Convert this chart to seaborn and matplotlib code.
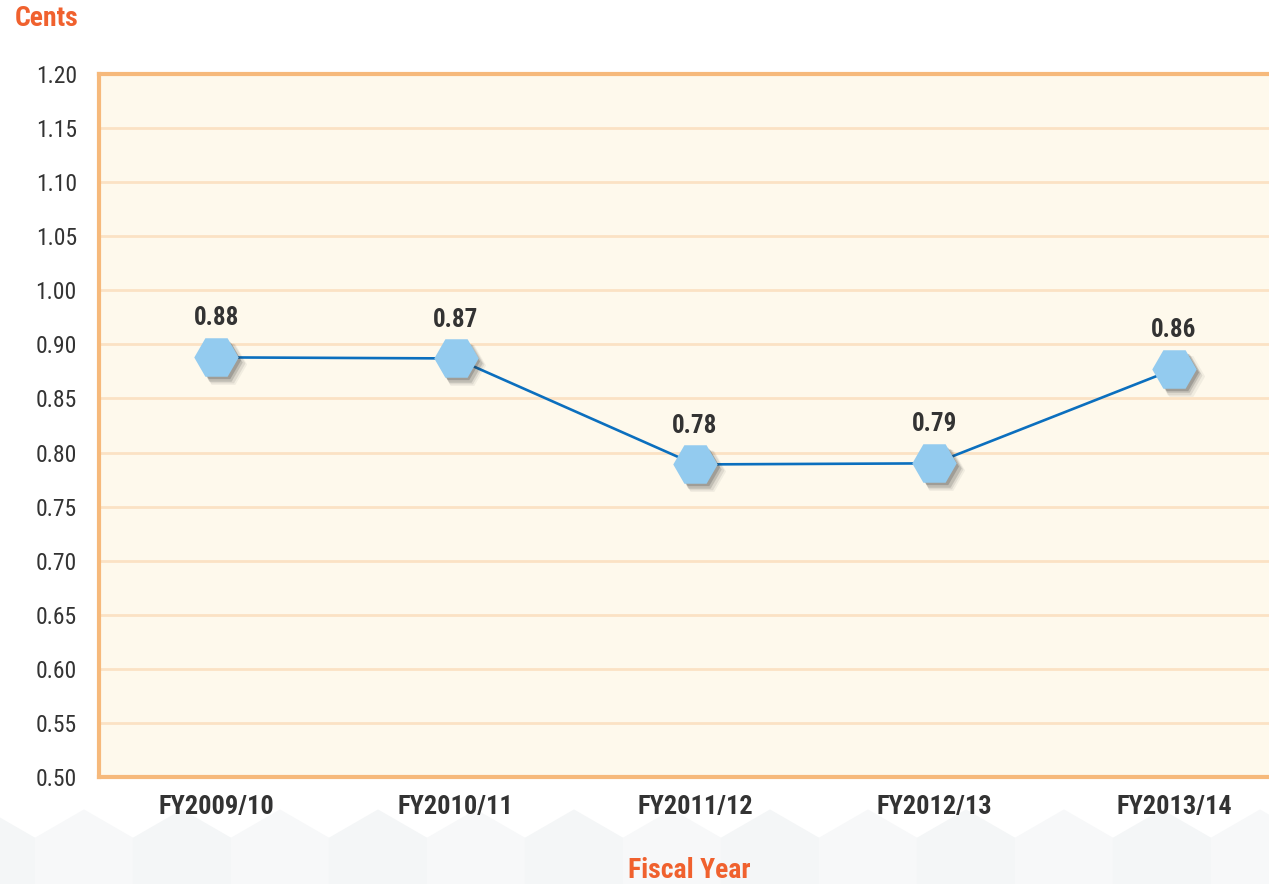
import matplotlib
matplotlib.use("Agg")
import matplotlib.pyplot as plt
import matplotlib.transforms as mtransforms
from matplotlib.patches import RegularPolygon
from matplotlib import font_manager
import seaborn as sns
import numpy as np
import pandas as pd

# data
years = ["FY2009/10", "FY2010/11", "FY2011/12", "FY2012/13", "FY2013/14"]
cents = [0.888, 0.887, 0.789, 0.790, 0.877]          # plotted positions
cent_labels = ["0.88", "0.87", "0.78", "0.79", "0.86"]  # printed labels
ytick_labels = ["0.50", "0.55", "0.60", "0.65", "0.70", "0.75", "0.80",
                "0.85", "0.90", "1.00", "1.05", "1.10", "1.15", "1.20"]

ORANGE = "#F0612E"
SPINE = "#F6B97B"
GRID = "#FBE2C4"
BG = "#FEF9EC"
LINE = "#0B6FBE"
MARKER = "#93CBEF"
DARK = "#333333"

sns.set_style("white")
installed = {f.name for f in font_manager.fontManager.ttflist}
for fam in ["Liberation Sans Narrow", "Roboto Condensed", "Roboto", "DejaVu Sans"]:
    if fam in installed:
        plt.rcParams["font.family"] = [fam, "DejaVu Sans"]
        break

df = pd.DataFrame({"year": years, "cents": cents, "label": cent_labels})
df["x"] = np.arange(len(df))

W, H = 1269, 884
fig = plt.figure(figsize=(W / 100, H / 100), dpi=100)

# faint hexagon band at the bottom of the page (pixel coords)
for k in range(-1, 14):
    hexa = RegularPolygon((84 + 98 * k, H - 866), numVertices=6, radius=56.6,
                          orientation=0, transform=mtransforms.IdentityTransform(),
                          facecolor="#F4F6F7" if k % 2 else "#F7F8F9",
                          edgecolor="none", zorder=-5)
    fig.patches.append(hexa)

ax = fig.add_axes([99 / W, 1 - 777 / H, (W - 99) / W + 0.01, (777 - 74) / H])
ax.set_facecolor(BG)

sns.lineplot(data=df, x="x", y="cents", color=LINE, linewidth=1.9, ax=ax, zorder=3)

# soft shadow under the markers
for dx, dy, a, s in [(2, -2, 0.22, 31), (3, -3, 0.16, 32), (4, -4, 0.10, 33),
                     (5, -5, 0.06, 34)]:
    off = mtransforms.ScaledTranslation(dx / 72, dy / 72, fig.dpi_scale_trans)
    sns.scatterplot(data=df, x="x", y="cents", marker="H", s=s ** 2,
                    color="#303030", alpha=a, linewidth=0, ax=ax, zorder=4,
                    transform=ax.transData + off, legend=False)
sns.scatterplot(data=df, x="x", y="cents", marker="H", s=32 ** 2,
                color=MARKER, linewidth=0, ax=ax, zorder=5, legend=False)

for _, r in df.iterrows():
    ax.annotate(r["label"], (r["x"], r["cents"]), xytext=(0, 28),
                textcoords="offset points", ha="center", va="center",
                fontsize=18, fontweight="bold", color=DARK, zorder=6)

ax.set_xlim(-0.489, 4.45)
ax.set_ylim(0.50, 1.15)
ax.set_xticks(df["x"], years)
ax.set_yticks(np.linspace(0.50, 1.15, len(ytick_labels)), ytick_labels)
ax.tick_params(axis="x", length=0, pad=13, labelsize=19, labelcolor=DARK)
ax.tick_params(axis="y", length=0, pad=16, labelsize=17, labelcolor=DARK)
for t in ax.get_xticklabels():
    t.set_fontweight("bold")
ax.grid(axis="y", color=GRID, linewidth=2)
ax.grid(axis="x", visible=False)
ax.set_axisbelow(True)
ax.set_xlabel("")
ax.set_ylabel("")
for side in ["left", "bottom", "top"]:
    ax.spines[side].set_color(SPINE)
    ax.spines[side].set_linewidth(3)
ax.spines["right"].set_visible(False)

fig.text(15 / W, 1 - 19 / H, "Cents", ha="left", va="center",
         fontsize=20, fontweight="bold", color=ORANGE)
fig.text(689 / W, 1 - 870 / H, "Fiscal Year", ha="center", va="center",
         fontsize=20, fontweight="bold", color=ORANGE)

fig.savefig("out.png", dpi=100, facecolor="white")
